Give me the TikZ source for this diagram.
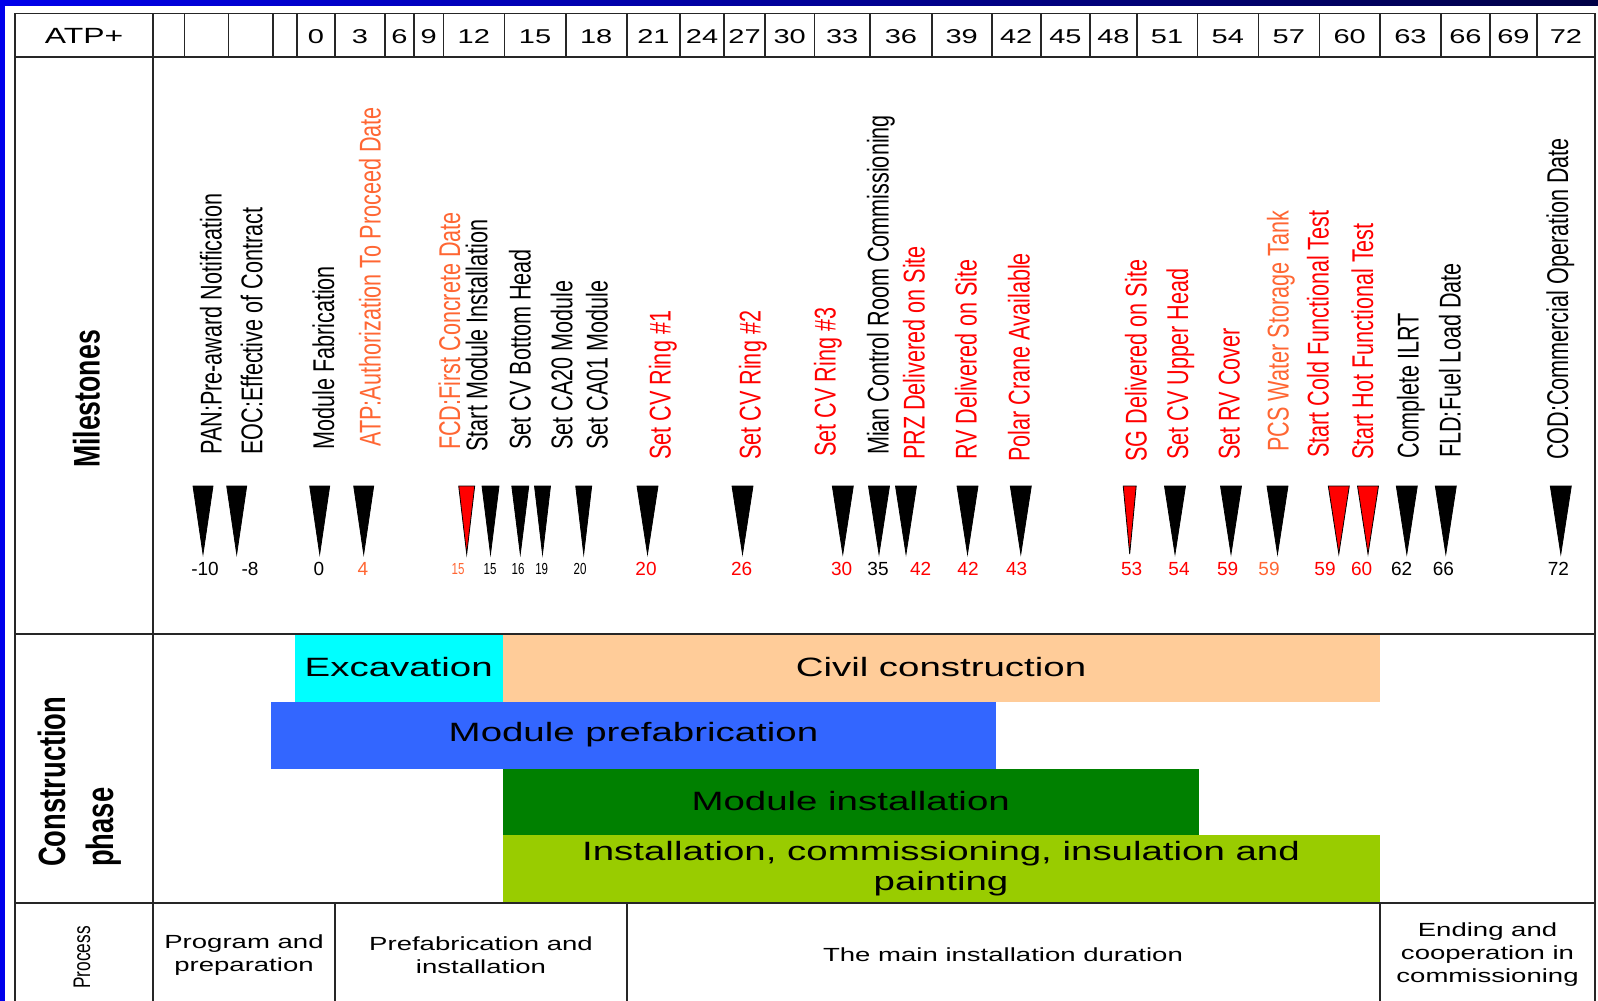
\documentclass[tikz,border=0pt]{standalone}
\usepackage{fontspec}
\setmainfont{Liberation Sans}
\newfontfamily\narrowfont[FakeStretch=0.72]{Liberation Sans}
\newfontfamily\widefont[FakeStretch=1.45]{Liberation Sans}
\definecolor{msred}{RGB}{255,0,0}
\definecolor{msorange}{RGB}{255,102,51}
\definecolor{excav}{RGB}{0,255,255}
\definecolor{civil}{RGB}{255,204,153}
\definecolor{prefab}{RGB}{51,102,255}
\definecolor{install}{RGB}{0,128,0}
\definecolor{commis}{RGB}{153,204,0}
\definecolor{frameL}{RGB}{0,0,235}
\definecolor{frameR}{RGB}{0,0,70}
\begin{document}
\begin{tikzpicture}[x=1pt, y=-1pt,
    lbl/.style={rotate=90, anchor=base west, inner sep=0pt, font=\narrowfont\fontsize{30}{30}\selectfont},
    num/.style={inner sep=0pt, font=\fontsize{19}{19}\selectfont},
    numsm/.style={inner sep=0pt, font=\narrowfont\fontsize{16}{16}\selectfont},
    hdr/.style={inner sep=0pt, font=\widefont\fontsize{20}{20}\selectfont},
    phs/.style={inner sep=0pt, align=center, font=\widefont\fontsize{26.5}{30}\selectfont},
    prc/.style={inner sep=0pt, align=center, font=\widefont\fontsize{19}{23}\selectfont},
    tri/.style={draw=black, line width=0.8pt, fill=black},
    trired/.style={tri, fill=msred},
    tabline/.style={draw=black!85, line width=1.6pt}]
    \useasboundingbox ( 0, 0 ) rectangle ( 1598, 1001 );
    % рамка слайда
    \shade [left color=frameL, right color=frameR] ( 0, 0 ) rectangle ( 1598, 5 );
    \fill [frameL] ( 0, 0 ) rectangle ( 5, 1001 );

    % фазы строительства
    \fill [excav] ( 295, 635 ) rectangle ( 502.5, 702 );
    \fill [civil] ( 502.5, 635 ) rectangle ( 1380, 702 );
    \fill [prefab] ( 271, 702 ) rectangle ( 996, 768.5 );
    \fill [install] ( 502.5, 768.5 ) rectangle ( 1199, 835 );
    \fill [commis] ( 502.5, 835 ) rectangle ( 1380, 903 );
    \node [phs] (exc) at ( 398.7, 667 ) {Excavation};
    \node [phs] (civ) at ( 941, 667 ) {Civil construction};
    \node [phs] (mpre) at ( 633.5, 735 ) {Module prefabrication};
    \node [phs] (mins) at ( 850.7, 801 ) {Module installation};
    \node [phs] (icip) at ( 941, 869 ) {Installation, commissioning, insulation and\\painting};

    % таблица
    \draw [tabline] ( 15, 13.3 ) -- ( 1595, 13.3 );
    \draw [tabline] ( 15, 56.7 ) -- ( 1595, 56.7 );
    \draw [tabline] ( 15, 634 ) -- ( 1595, 634 );
    \draw [tabline] ( 15, 903 ) -- ( 1595, 903 );
    \draw [tabline] ( 15, 13.3 ) -- ( 15, 1001 );
    \draw [tabline] ( 152.7, 13.3 ) -- ( 152.7, 1001 );
    \draw [tabline] ( 1595, 13.3 ) -- ( 1595, 1001 );
    \draw [tabline] ( 184.3, 13.3 ) -- ( 184.3, 56.7 ) ( 228.3, 13.3 ) -- ( 228.3, 56.7 ) ( 272.7, 13.3 ) -- ( 272.7, 56.7 ) ( 296.7, 13.3 ) -- ( 296.7, 56.7 );
    \draw [tabline] ( 335, 13.3 ) -- ( 335, 56.7 ) ( 385, 13.3 ) -- ( 385, 56.7 ) ( 414, 13.3 ) -- ( 414, 56.7 ) ( 443.3, 13.3 ) -- ( 443.3, 56.7 ) ( 504.3, 13.3 ) -- ( 504.3, 56.7 );
    \draw [tabline] ( 565.7, 13.3 ) -- ( 565.7, 56.7 ) ( 626.7, 13.3 ) -- ( 626.7, 56.7 ) ( 680, 13.3 ) -- ( 680, 56.7 ) ( 724, 13.3 ) -- ( 724, 56.7 ) ( 765, 13.3 ) -- ( 765, 56.7 );
    \draw [tabline] ( 814.3, 13.3 ) -- ( 814.3, 56.7 ) ( 870, 13.3 ) -- ( 870, 56.7 ) ( 931.7, 13.3 ) -- ( 931.7, 56.7 ) ( 991.7, 13.3 ) -- ( 991.7, 56.7 ) ( 1040.7, 13.3 ) -- ( 1040.7, 56.7 );
    \draw [tabline] ( 1090, 13.3 ) -- ( 1090, 56.7 ) ( 1136.7, 13.3 ) -- ( 1136.7, 56.7 ) ( 1197.3, 13.3 ) -- ( 1197.3, 56.7 ) ( 1258.3, 13.3 ) -- ( 1258.3, 56.7 ) ( 1319.3, 13.3 ) -- ( 1319.3, 56.7 );
    \draw [tabline] ( 1380, 13.3 ) -- ( 1380, 56.7 ) ( 1440.7, 13.3 ) -- ( 1440.7, 56.7 ) ( 1490, 13.3 ) -- ( 1490, 56.7 ) ( 1536.7, 13.3 ) -- ( 1536.7, 56.7 );
    \draw [tabline] ( 335, 903 ) -- ( 335, 1001 ) ( 626.7, 903 ) -- ( 626.7, 1001 ) ( 1380, 903 ) -- ( 1380, 1001 );

    % шапка
    \node [hdr, font=\widefont\fontsize{22}{22}\selectfont] (atp) at ( 84, 36 ) {ATP+};
    \node [hdr] (h0) at ( 315.9, 37 ) {0};
    \node [hdr] (h3) at ( 360, 37 ) {3};
    \node [hdr] (h6) at ( 399.5, 37 ) {6};
    \node [hdr] (h9) at ( 428.7, 37 ) {9};
    \node [hdr] (h12) at ( 473.8, 37 ) {12};
    \node [hdr] (h15) at ( 535, 37 ) {15};
    \node [hdr] (h18) at ( 596.2, 37 ) {18};
    \node [hdr] (h21) at ( 653.4, 37 ) {21};
    \node [hdr] (h24) at ( 702, 37 ) {24};
    \node [hdr] (h27) at ( 744.5, 37 ) {27};
    \node [hdr] (h30) at ( 789.7, 37 ) {30};
    \node [hdr] (h33) at ( 842.2, 37 ) {33};
    \node [hdr] (h36) at ( 900.9, 37 ) {36};
    \node [hdr] (h39) at ( 961.7, 37 ) {39};
    \node [hdr] (h42) at ( 1016.2, 37 ) {42};
    \node [hdr] (h45) at ( 1065.4, 37 ) {45};
    \node [hdr] (h48) at ( 1113.4, 37 ) {48};
    \node [hdr] (h51) at ( 1167, 37 ) {51};
    \node [hdr] (h54) at ( 1227.8, 37 ) {54};
    \node [hdr] (h57) at ( 1288.8, 37 ) {57};
    \node [hdr] (h60) at ( 1349.7, 37 ) {60};
    \node [hdr] (h63) at ( 1410.4, 37 ) {63};
    \node [hdr] (h66) at ( 1465.4, 37 ) {66};
    \node [hdr] (h69) at ( 1513.4, 37 ) {69};
    \node [hdr] (h72) at ( 1565.9, 37 ) {72};

    % левая колонка
    \node [rotate=90, inner sep=0pt, font=\narrowfont\bfseries\fontsize{37}{37}\selectfont] (mil) at ( 86.5, 399 ) {Milestones};
    \node [rotate=90, anchor=west, inner sep=0pt, align=left, font=\narrowfont\bfseries\fontsize{38}{48}\selectfont] (cph) at ( 80, 867 ) {Construction\\phase};
    \node [rotate=90, inner sep=0pt, font=\narrowfont\fontsize{24}{24}\selectfont] (proc) at ( 82, 957.5 ) {Process};

    % процесс
    \node [prc] (prog) at ( 244, 955 ) {Program and\\preparation};
    \node [prc] (pref) at ( 481, 955 ) {Prefabrication and\\installation};
    \node [prc] (mdur) at ( 1003, 955 ) {The main installation duration};
    \node [prc] (endc) at ( 1487.5, 955 ) {Ending and\\cooperation in\\commissioning};

    % вехи
    \filldraw [tri] ( 193, 486 ) -- ( 213, 486 ) -- ( 203, 554 ) -- cycle;
    \node [lbl] (pan) at ( 221.5, 455 ) {PAN:Pre-award Notification};
    \node [num] (npan) at ( 205, 569 ) {-10};
    \filldraw [tri] ( 226.7, 486 ) -- ( 246.7, 486 ) -- ( 236.7, 554 ) -- cycle;
    \node [lbl] (eoc) at ( 262.4, 455 ) {EOC:Effective of Contract};
    \node [num] (neoc) at ( 250, 569 ) {-8};
    \filldraw [tri] ( 309.7, 486 ) -- ( 329.7, 486 ) -- ( 319.7, 554 ) -- cycle;
    \node [lbl] (mfab) at ( 334, 450 ) {Module Fabrication};
    \node [num] (nmfab) at ( 319, 569 ) {0};
    \filldraw [tri] ( 353.7, 486 ) -- ( 373.7, 486 ) -- ( 363.7, 554 ) -- cycle;
    \node [lbl, msorange] (atpd) at ( 380.7, 446.7 ) {ATP:Authorization To Proceed Date};
    \node [num, msorange] (natpd) at ( 363, 569 ) {4};
    \filldraw [trired] ( 458.7, 486 ) -- ( 474.7, 486 ) -- ( 466.7, 554 ) -- cycle;
    \node [lbl, msorange] (fcd) at ( 460.2, 450 ) {FCD:First Concrete Date};
    \node [numsm, msorange] (nfcd) at ( 458, 569 ) {15};
    \filldraw [tri] ( 482, 486 ) -- ( 499, 486 ) -- ( 490.5, 554 ) -- cycle;
    \node [lbl] (smi) at ( 487.4, 451.7 ) {Start Module Installation};
    \node [numsm] (nsmi) at ( 490, 569 ) {15};
    \filldraw [tri] ( 511.8, 486 ) -- ( 528.8, 486 ) -- ( 520.3, 554 ) -- cycle;
    \node [lbl] (cvb) at ( 530.7, 450 ) {Set CV Bottom Head};
    \node [numsm] (ncvb) at ( 518, 569 ) {16};
    \filldraw [tri] ( 534.5, 486 ) -- ( 550.5, 486 ) -- ( 542.5, 554 ) -- cycle;
    \node [lbl] (ca20) at ( 572.4, 450 ) {Set CA20 Module};
    \node [numsm] (nca20) at ( 541.7, 569 ) {19};
    \filldraw [tri] ( 575.7, 486 ) -- ( 591.7, 486 ) -- ( 583.7, 554 ) -- cycle;
    \node [lbl] (ca01) at ( 607.7, 450 ) {Set CA01 Module};
    \node [numsm] (nca01) at ( 580, 569 ) {20};
    \filldraw [tri] ( 637, 486 ) -- ( 658, 486 ) -- ( 647.5, 554 ) -- cycle;
    \node [lbl, msred] (ring1) at ( 670.7, 460 ) {Set CV Ring \#1};
    \node [num, msred] (nring1) at ( 646, 569 ) {20};
    \filldraw [tri] ( 732, 486 ) -- ( 753, 486 ) -- ( 742.5, 554 ) -- cycle;
    \node [lbl, msred] (ring2) at ( 760.7, 460 ) {Set CV Ring \#2};
    \node [num, msred] (nring2) at ( 741.7, 569 ) {26};
    \filldraw [tri] ( 832.3, 486 ) -- ( 853.3, 486 ) -- ( 842.8, 554 ) -- cycle;
    \node [lbl, msred] (ring3) at ( 835.7, 456.7 ) {Set CV Ring \#3};
    \node [num, msred] (nring3) at ( 841.7, 569 ) {30};
    \filldraw [tri] ( 868.5, 486 ) -- ( 889.5, 486 ) -- ( 879, 554 ) -- cycle;
    \node [lbl] (mcr) at ( 888.7, 455 ) {Mian Control Room Commissioning};
    \node [num] (nmcr) at ( 878, 569 ) {35};
    \filldraw [tri] ( 895.5, 486 ) -- ( 916.5, 486 ) -- ( 906, 554 ) -- cycle;
    \node [lbl, msred] (prz) at ( 924.7, 460 ) {PRZ Delivered on Site};
    \node [num, msred] (nprz) at ( 920.7, 569 ) {42};
    \filldraw [tri] ( 957, 486 ) -- ( 978, 486 ) -- ( 967.5, 554 ) -- cycle;
    \node [lbl, msred] (rvd) at ( 976.5, 460 ) {RV Delivered on Site};
    \node [num, msred] (nrvd) at ( 968, 569 ) {42};
    \filldraw [tri] ( 1010.3, 486 ) -- ( 1031.3, 486 ) -- ( 1020.8, 554 ) -- cycle;
    \node [lbl, msred] (pca) at ( 1029.7, 461.7 ) {Polar Crane Available};
    \node [num, msred] (npca) at ( 1016.7, 569 ) {43};
    \filldraw [trired] ( 1123.2, 486 ) -- ( 1136.2, 486 ) -- ( 1129.7, 554 ) -- cycle;
    \node [lbl, msred] (sgd) at ( 1146.7, 461.7 ) {SG Delivered on Site};
    \node [num, msred] (nsgd) at ( 1131.7, 569 ) {53};
    \filldraw [tri] ( 1164.5, 486 ) -- ( 1185.5, 486 ) -- ( 1175, 554 ) -- cycle;
    \node [lbl, msred] (cvu) at ( 1188.2, 460 ) {Set CV Upper Head};
    \node [num, msred] (ncvu) at ( 1179, 569 ) {54};
    \filldraw [tri] ( 1220.5, 486 ) -- ( 1241.5, 486 ) -- ( 1231, 554 ) -- cycle;
    \node [lbl, msred] (rvc) at ( 1239.7, 460 ) {Set RV Cover};
    \node [num, msred] (nrvc) at ( 1227.7, 569 ) {59};
    \filldraw [tri] ( 1267, 486 ) -- ( 1288, 486 ) -- ( 1277.5, 554 ) -- cycle;
    \node [lbl, msorange] (pcs) at ( 1288.7, 451.7 ) {PCS Water Storage Tank};
    \node [num, msorange] (npcs) at ( 1269, 569 ) {59};
    \filldraw [trired] ( 1328.3, 486 ) -- ( 1349.3, 486 ) -- ( 1338.8, 554 ) -- cycle;
    \node [lbl, msred] (cft) at ( 1328.7, 458 ) {Start Cold Functional Test};
    \node [num, msred] (ncft) at ( 1325, 569 ) {59};
    \filldraw [trired] ( 1357.5, 486 ) -- ( 1378.5, 486 ) -- ( 1368, 554 ) -- cycle;
    \node [lbl, msred] (hft) at ( 1373.2, 460 ) {Start Hot Functional Test};
    \node [num, msred] (nhft) at ( 1361.7, 569 ) {60};
    \filldraw [tri] ( 1396.3, 486 ) -- ( 1417.3, 486 ) -- ( 1406.8, 554 ) -- cycle;
    \node [lbl] (ilrt) at ( 1418.7, 458.3 ) {Complete ILRT};
    \node [num] (nilrt) at ( 1401.7, 569 ) {62};
    \filldraw [tri] ( 1435.3, 486 ) -- ( 1456.3, 486 ) -- ( 1445.8, 554 ) -- cycle;
    \node [lbl] (fld) at ( 1460.7, 458 ) {FLD:Fuel Load Date};
    \node [num] (nfld) at ( 1443.3, 569 ) {66};
    \filldraw [tri] ( 1550.3, 486 ) -- ( 1571.3, 486 ) -- ( 1560.8, 554 ) -- cycle;
    \node [lbl] (cod) at ( 1568.2, 460 ) {COD:Commercial Operation Date};
    \node [num] (ncod) at ( 1558.3, 569 ) {72};
\end{tikzpicture}
\end{document}
